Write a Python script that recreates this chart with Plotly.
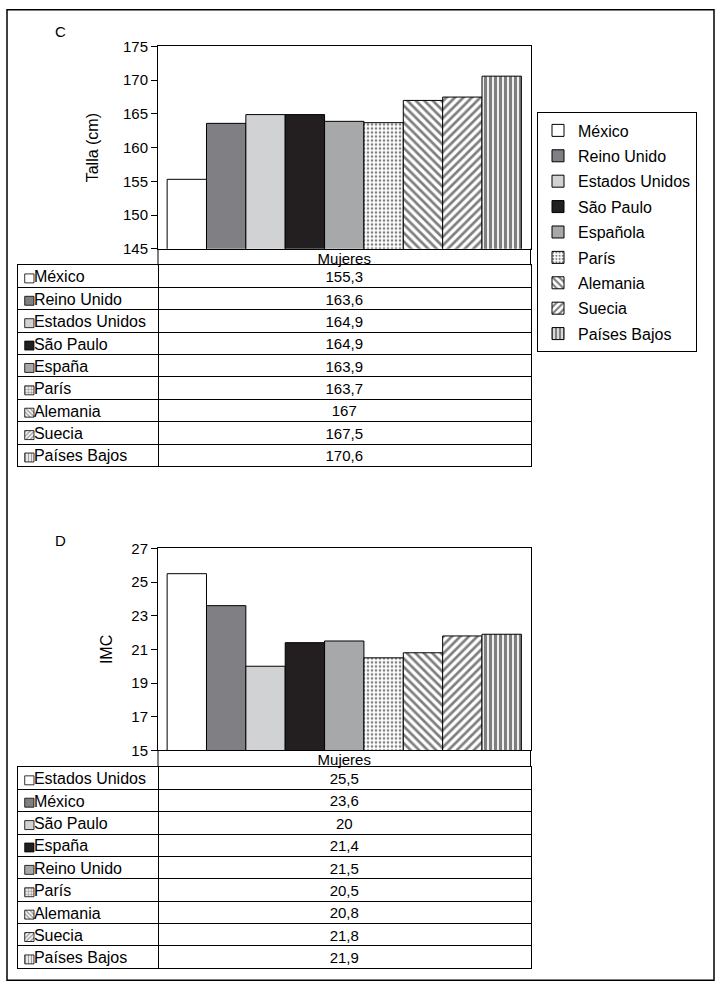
import plotly.graph_objects as go

# ---------------- data ----------------
categoria = ["Mujeres"]

legend_c = ["México", "Reino Unido", "Estados Unidos", "São Paulo", "Española",
            "París", "Alemania", "Suecia", "Países Bajos"]
tabla_c = ["México", "Reino Unido", "Estados Unidos", "São Paulo", "España",
           "París", "Alemania", "Suecia", "Países Bajos"]
talla = [155.3, 163.6, 164.9, 164.9, 163.9, 163.7, 167, 167.5, 170.6]

tabla_d = ["Estados Unidos", "México", "São Paulo", "España", "Reino Unido",
           "París", "Alemania", "Suecia", "Países Bajos"]
imc = [25.5, 23.6, 20, 21.4, 21.5, 20.5, 20.8, 21.8, 21.9]

ticks_c = [145, 150, 155, 160, 165, 170, 175]
ticks_d = [15, 17, 19, 21, 23, 25, 27]

# ---------------- styles ----------------
colores = ["#ffffff", "#808084", "#d1d2d4", "#231f20", "#a7a8aa",
           "#ffffff", "#ffffff", "#ffffff", "#ffffff"]
patrones = ["", "", "", "", "", ".", "\\", "/", "|"]
pat_size = [8, 8, 8, 8, 8, 4, 6, 6, 5]
pat_sol = [0.3, 0.3, 0.3, 0.3, 0.3, 0.35, 0.45, 0.45, 0.65]

FONT = "Liberation Sans, Arial, sans-serif"
W, H = 724, 992
Y_OFF, Y_SCALE = 8.5, 0.983   # observed page->picture vertical mapping


def px_x(p):
    return p / W


def px_y(p):
    return 1 - ((p - Y_OFF) / Y_SCALE) / H


def fmt(v):
    return f"{v:g}".replace(".", ",")


fig = go.Figure()

# ---- bar charts ----
for i, name in enumerate(legend_c):
    fig.add_trace(go.Bar(
        x=categoria, y=[talla[i]], name=name, legendgroup=name,
        xaxis="x", yaxis="y",
        marker=dict(color=colores[i], line=dict(color="black", width=1),
                    pattern=dict(shape=patrones[i], size=pat_size[i],
                                 solidity=pat_sol[i], fgcolor="black",
                                 bgcolor=colores[i])),
    ))
for i, name in enumerate(tabla_d):
    fig.add_trace(go.Bar(
        x=categoria, y=[imc[i]], name=name, showlegend=False,
        xaxis="x3", yaxis="y3",
        marker=dict(color=colores[i], line=dict(color="black", width=1),
                    pattern=dict(shape=patrones[i], size=pat_size[i],
                                 solidity=pat_sol[i], fgcolor="black",
                                 bgcolor=colores[i])),
    ))

# ---- tables ----
DIV = 0.2732
SW0, SW1 = 0.0131, 0.0312
TXT_X = 0.031
VAL_X = (DIV + 1) / 2
SHIFT = 0.1


def add_table(names, values, xa, ya):
    rows = list(range(len(names)))
    fig.add_trace(go.Bar(
        y=[r + SHIFT for r in rows], x=[SW1 - SW0] * len(rows), base=[SW0] * len(rows),
        orientation="h", width=0.4, showlegend=False, hoverinfo="skip",
        xaxis=xa, yaxis=ya,
        marker=dict(color=colores, line=dict(color="black", width=0.8),
                    pattern=dict(shape=patrones, size=3, solidity=0.5,
                                 fgcolor="black", bgcolor=colores)),
    ))
    fig.add_trace(go.Scatter(
        x=[TXT_X] * len(rows), y=[r + SHIFT for r in rows], text=names,
        mode="text", textposition="middle right", showlegend=False,
        textfont=dict(family=FONT, size=16, color="black"),
        xaxis=xa, yaxis=ya, hoverinfo="skip",
    ))
    fig.add_trace(go.Scatter(
        x=[VAL_X] * len(rows), y=[r + SHIFT for r in rows],
        text=[fmt(v) for v in values],
        mode="text", textposition="middle center", showlegend=False,
        textfont=dict(family=FONT, size=15, color="black"),
        xaxis=xa, yaxis=ya, hoverinfo="skip",
    ))


add_table(tabla_c, talla, "x2", "y2")
add_table(tabla_d, imc, "x4", "y4")

# ---- layout ----
chart_x = [px_x(158), px_x(530.5)]
table_x = [px_x(18), px_x(530.5)]

common_bar_x = dict(showline=True, linecolor="black", linewidth=1, mirror=True,
                    ticks="", tickfont=dict(family=FONT, size=15, color="black"),
                    ticklabelstandoff=-4, fixedrange=True)


def bar_y(rng, tv, title, standoff, dom):
    return dict(domain=dom, range=rng, tickvals=tv, showline=True, linecolor="black",
                linewidth=1, mirror=True, ticks="outside", ticklen=6, tickcolor="black",
                showgrid=False, zeroline=False,
                tickfont=dict(family=FONT, size=15, color="black"),
                title=dict(text=title, font=dict(family=FONT, size=16, color="black"),
                           standoff=standoff))


def tab_x(anchor):
    return dict(domain=table_x, range=[0, 1], anchor=anchor, showline=True,
                linecolor="black", linewidth=1, mirror=True, tickvals=[DIV],
                showticklabels=False, showgrid=True, gridcolor="black", gridwidth=1,
                zeroline=False, ticks="")


def tab_y(anchor, dom, n):
    return dict(domain=dom, range=[n - 0.5, -0.5], anchor=anchor, showline=True,
                linecolor="black", linewidth=1, mirror=True,
                tickvals=[i + 0.5 for i in range(n - 1)], showticklabels=False,
                showgrid=True, gridcolor="black", gridwidth=1, zeroline=False, ticks="")


fig.update_layout(
    width=W, height=H, margin=dict(l=0, r=0, t=0, b=0),
    paper_bgcolor="white", plot_bgcolor="white",
    font=dict(family=FONT, size=15, color="black"),
    barmode="group", bargap=0.049, bargroupgap=0,
    xaxis=dict(domain=chart_x, anchor="y", **common_bar_x),
    yaxis=bar_y([145, 175], ticks_c, "Talla (cm)", 20, [px_y(248.3), px_y(46)]),
    xaxis3=dict(domain=chart_x, anchor="y3", **common_bar_x),
    yaxis3=bar_y([15, 27], ticks_d, "IMC", 14, [px_y(750), px_y(548)]),
    xaxis2=tab_x("y2"),
    yaxis2=tab_y("x2", [px_y(466), px_y(264.5)], len(tabla_c)),
    xaxis4=tab_x("y4"),
    yaxis4=tab_y("x4", [px_y(968), px_y(766.5)], len(tabla_d)),
    legend=dict(x=px_x(537), y=px_y(112), xanchor="left", yanchor="top",
                bordercolor="black", borderwidth=1, bgcolor="white",
                font=dict(family=FONT, size=16, color="black"),
                tracegroupgap=1.6, traceorder="grouped"),
    showlegend=True,
)

shapes = [
    dict(type="rect", xref="paper", yref="paper", x0=px_x(7), x1=px_x(714),
         y0=px_y(980), y1=min(px_y(9.3), 1 - 0.8 / H), line=dict(color="black", width=1.5)),
]
for xr, yr in (("x domain", "y domain"), ("x3 domain", "y3 domain")):
    for xv in (0, 1):
        shapes.append(dict(type="line", xref=xr, yref=yr, x0=xv, x1=xv,
                           y0=0, y1=-16.5 / 202, line=dict(color="black", width=1)))
fig.update_layout(shapes=shapes)

for label, yp in (("C", 31), ("D", 540)):
    fig.add_annotation(text=label, x=px_x(60), y=px_y(yp), xref="paper", yref="paper",
                       xanchor="center", yanchor="middle", showarrow=False,
                       font=dict(family=FONT, size=15, color="black"))

fig.write_html(
    "out.html",
    config={"displayModeBar": False},
    post_script=(
        "document.documentElement.style.margin='0';"
        "document.body.style.margin='0';document.body.style.padding='0';"
        "document.body.style.overflow='hidden';"
    ),
)
